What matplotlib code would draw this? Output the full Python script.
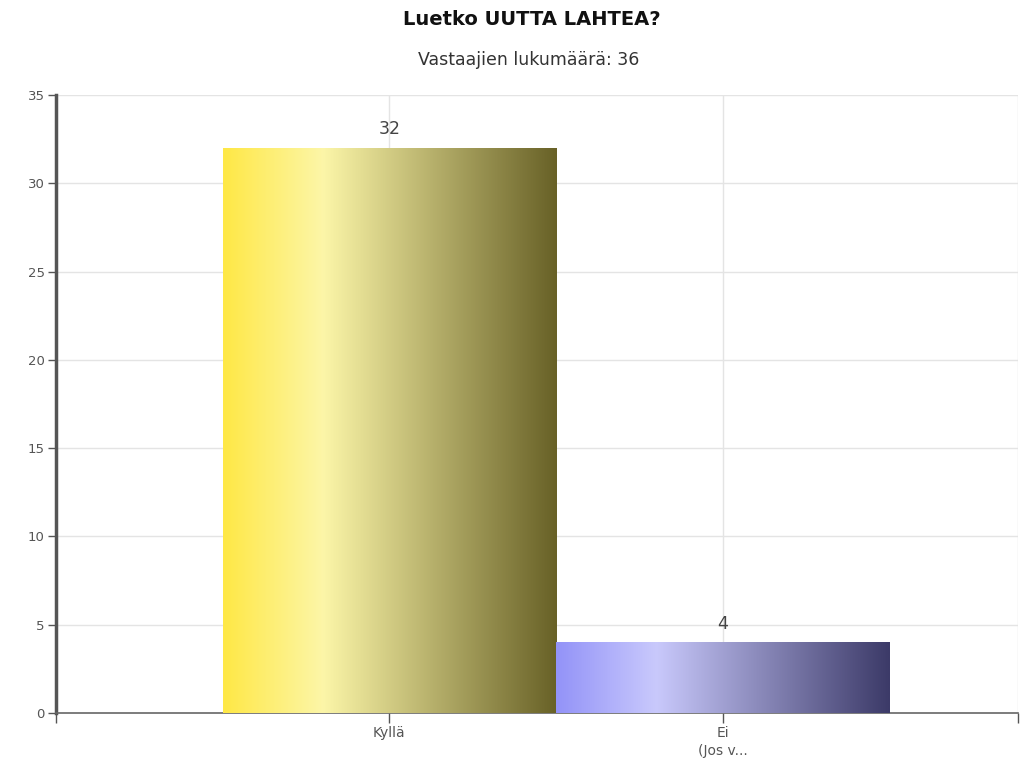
import numpy as np
import matplotlib
matplotlib.use("Agg")
import matplotlib.pyplot as plt
from matplotlib.colors import LinearSegmentedColormap

# Chart data
categories = ["Kyllä", "Ei\n(Jos v..."]
counts = [32, 4]
title = "Luetko UUTTA LAHTEA?"
subtitle = "Vastaajien lukumäärä: 36"
yticks = [0, 5, 10, 15, 20, 25, 30, 35]

# gradient stops for each bar (left -> right)
bar_stops = [
    [(0.0, "#FFE846"), (0.3, "#FCF6A8"), (1.0, "#686127")],
    [(0.0, "#9393F8"), (0.3, "#C9C9FC"), (1.0, "#3C3A68")],
]

fig = plt.figure(figsize=(10.21, 7.63), dpi=100)
ax = fig.add_axes([0.0548, 0.0655, 0.9422, 0.81])

xpos = np.arange(len(categories))
width = 1.0
x_lo, x_hi = -1.0, 1.886

grad = np.linspace(0, 1, 256).reshape(1, -1)
for i, (x, v) in enumerate(zip(xpos, counts)):
    cmap = LinearSegmentedColormap.from_list("b%d" % i, bar_stops[i])
    rect = ax.bar(x, v, width=width, color="none", zorder=3)[0]
    im = ax.imshow(grad, cmap=cmap, aspect="auto", zorder=3,
                   extent=[x - width / 2, x + width / 2, 0, v])
    im.set_clip_path(rect)
    ax.text(x, v + 0.55, str(v), ha="center", va="bottom",
            fontsize=12.5, color="#444444", zorder=4)

ax.set_xlim(x_lo, x_hi)
ax.set_ylim(0, 35)

# grid
for y in yticks[1:]:
    ax.axhline(y, color="#e4e4e4", lw=1.0, zorder=1)
for x in list(xpos) + [x_hi]:
    ax.axvline(x, color="#e4e4e4", lw=1.0, zorder=1)

ax.set_yticks(yticks)
ax.set_yticklabels([str(t) for t in yticks], fontsize=9.5, color="#555555")
ax.set_xticks([x_lo] + list(xpos) + [x_hi])
ax.set_xticklabels([""] + categories + [""], fontsize=10, color="#555555",
                   linespacing=1.4)
ax.tick_params(axis="y", length=6, width=1, color="#555555", pad=2)
ax.tick_params(axis="x", length=7, width=1, color="#555555", pad=2)

for s in ["top", "right"]:
    ax.spines[s].set_visible(False)
ax.spines["left"].set_color("#555555")
ax.spines["left"].set_linewidth(2.5)
ax.spines["bottom"].set_color("#666666")
ax.spines["bottom"].set_linewidth(1.2)

fig.text(0.521, 0.974, title, ha="center", va="center", fontsize=14,
         fontweight="bold", color="#111111")
fig.text(0.518, 0.921, subtitle, ha="center", va="center",
         fontsize=12.5, color="#333333")

fig.savefig("out.png", dpi=100)
